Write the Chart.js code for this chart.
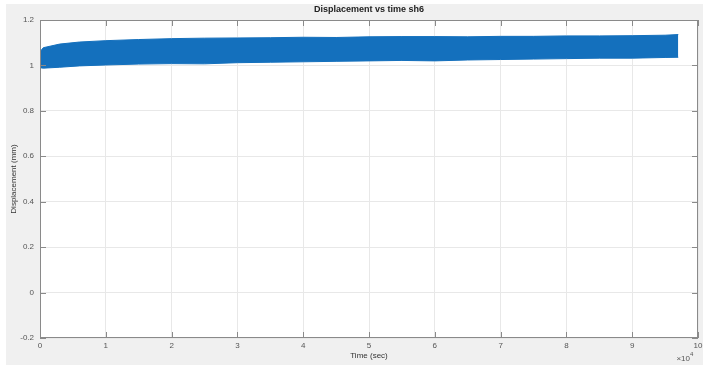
<!DOCTYPE html>
<html>
<head>
<meta charset="utf-8">
<script src="https://cdn.jsdelivr.net/npm/chart.js@4"></script>
<style>
  html, body { margin: 0; padding: 0; background: #ffffff; }
  #wrap { width: 709px; height: 367px; }
</style>
</head>
<body>
<div id="wrap"><canvas id="grafico-deslocamento" width="709" height="367"></canvas></div>
<script>
/* DADOS: envelope do sinal de deslocamento (x em unidades de 10^4 s) */
var tempo = [0, 0.05, 0.3, 0.6, 1.0, 1.5, 2.0, 2.5, 3.0, 3.5, 4.0, 4.5, 5.0, 5.5, 6.0, 6.5, 7.0, 7.5, 8.0, 8.5, 9.0, 9.5, 9.7];
var deslocMax = [1.06, 1.078, 1.094, 1.103, 1.109, 1.114, 1.118, 1.12, 1.121, 1.122, 1.124, 1.123, 1.126, 1.127, 1.127, 1.126, 1.128, 1.128, 1.13, 1.13, 1.131, 1.133, 1.136];
var deslocMin = [0.99, 0.988, 0.992, 0.998, 1.002, 1.006, 1.008, 1.007, 1.012, 1.014, 1.016, 1.018, 1.02, 1.022, 1.02, 1.024, 1.026, 1.028, 1.03, 1.032, 1.032, 1.035, 1.036];
var ticksX = [0, 1, 2, 3, 4, 5, 6, 7, 8, 9, 10];
var ticksY = [-0.2, 0, 0.2, 0.4, 0.6, 0.8, 1, 1.2];

var azul = '#1470bd';
var fonte = '"Liberation Sans", Arial, sans-serif';

function pontos(ys) {
    return tempo.map(function (t, i) { return { x: t, y: ys[i] }; });
}

/* fundo cinza da figura, caixa e ticks para dentro (estilo MATLAB) */
var moldura = {
    id: 'moldura',
    beforeDraw: function (chart) {
        var c = chart.ctx, a = chart.chartArea;
        c.save();
        c.fillStyle = '#f0f0f0';
        c.fillRect(6, 4, 697, 361);
        c.fillStyle = '#ffffff';
        c.fillRect(a.left, a.top, a.right - a.left, a.bottom - a.top);
        c.restore();
    },
    afterDraw: function (chart) {
        var c = chart.ctx, a = chart.chartArea;
        var sx = chart.scales.x, sy = chart.scales.y;
        c.save();
        c.strokeStyle = '#8a8a8a';
        c.lineWidth = 1;
        c.strokeRect(a.left + 0.5, a.top + 0.5, a.right - a.left - 1, a.bottom - a.top - 1);
        c.beginPath();
        ticksX.forEach(function (v) {
            var px = Math.round(sx.getPixelForValue(v)) + 0.5;
            c.moveTo(px, a.bottom); c.lineTo(px, a.bottom - 6);
            c.moveTo(px, a.top); c.lineTo(px, a.top + 6);
        });
        ticksY.forEach(function (v) {
            var py = Math.round(sy.getPixelForValue(v)) + 0.5;
            c.moveTo(a.left, py); c.lineTo(a.left + 6, py);
            c.moveTo(a.right, py); c.lineTo(a.right - 6, py);
        });
        c.stroke();
        // titulo e multiplicador
        c.fillStyle = '#222';
        c.font = 'bold 9px ' + fonte;
        c.textAlign = 'center';
        c.textBaseline = 'bottom';
        c.fillText('Displacement vs time sh6', (a.left + a.right) / 2, a.top - 6);
        c.fillStyle = '#555';
        c.font = '8px ' + fonte;
        c.textAlign = 'right';
        c.textBaseline = 'alphabetic';
        c.fillText('\u00d710', 690, 361);
        c.font = '6px ' + fonte;
        c.textAlign = 'left';
        c.fillText('4', 690, 356);
        c.restore();
    }
};

new Chart(document.getElementById('grafico-deslocamento'), {
    type: 'line',
    data: {
        datasets: [{
            data: pontos(deslocMax),
            borderColor: azul,
            borderWidth: 1,
            pointRadius: 0,
            fill: false
        }, {
            data: pontos(deslocMin),
            borderColor: azul,
            backgroundColor: azul,
            borderWidth: 1,
            pointRadius: 0,
            fill: '-1'
        }]
    },
    options: {
        responsive: false,
        animation: false,
        layout: { padding: { left: 0, right: 11, top: 20, bottom: 0 } },
        plugins: {
            legend: { display: false },
            tooltip: { enabled: false }
        },
        scales: {
            x: {
                type: 'linear',
                min: 0,
                max: 10,
                afterBuildTicks: function (s) { s.ticks = ticksX.map(function (v) { return { value: v }; }); },
                afterFit: function (s) { s.height = 29; },
                border: { display: false },
                grid: { color: '#e8e8e8', drawTicks: false },
                ticks: {
                    color: '#555',
                    padding: 3,
                    maxRotation: 0,
                    font: { size: 8, family: fonte }
                },
                title: {
                    display: true,
                    text: 'Time (sec)',
                    color: '#333',
                    padding: { top: 0, bottom: 6 },
                    font: { size: 8, family: fonte }
                }
            },
            y: {
                min: -0.2,
                max: 1.2,
                afterBuildTicks: function (s) { s.ticks = ticksY.map(function (v) { return { value: v }; }); },
                afterFit: function (s) { s.width = 40; },
                border: { display: false },
                grid: { color: '#e8e8e8', drawTicks: false },
                ticks: {
                    color: '#555',
                    padding: 6,
                    font: { size: 8, family: fonte },
                    callback: function (v) { return String(Math.round(v * 10) / 10); }
                },
                title: {
                    display: true,
                    text: 'Displacement (mm)',
                    color: '#333',
                    padding: { top: 9, bottom: 0 },
                    font: { size: 8, family: fonte }
                }
            }
        }
    },
    plugins: [moldura]
});
</script>
</body>
</html>
